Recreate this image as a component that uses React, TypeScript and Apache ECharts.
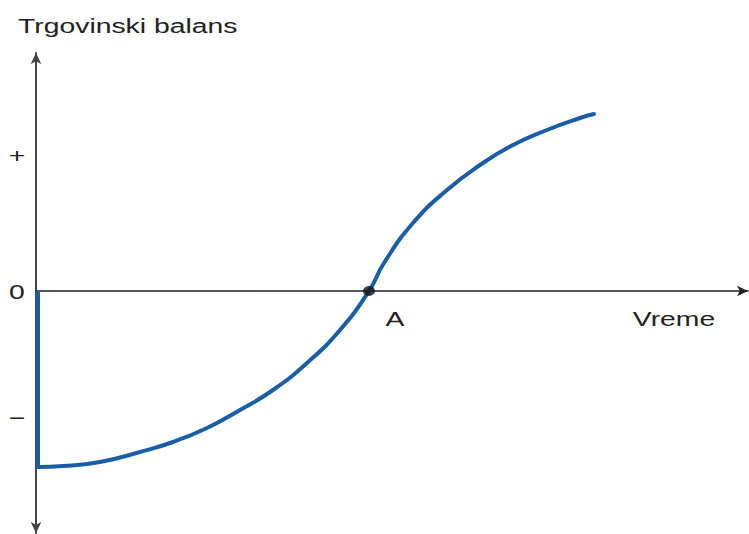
import React, { useEffect, useRef } from "react";
import * as echarts from "echarts";

// Curve (J-curve) points: x = time, y = trade balance
const curveX = [2, 27, 64, 104, 137, 171, 204, 237, 271, 304, 333, 348, 377, 411, 444, 477, 511, 544, 558];
const curveY = [-176, -175, -171, -161, -151, -137, -119, -99, -72, -39, 0, 28, 68, 101, 126, 146, 161, 173, 177];
// Initial drop (vertical segment)
const dropX = [2, 2];
const dropY = [0, -176];
// Point A
const pointA = [333, 0];
// Y tick labels
const yTickValues = [136, 0, -126];
const yTickLabels = ["+", "0", "\u2212"];

const FONT = "'Liberation Sans', Arial, Helvetica, sans-serif";
const TXT = "#222";
const SCALE_X = 1.35;

export default function App() {
  const ref = useRef<HTMLDivElement>(null);

  useEffect(() => {
    document.body.style.margin = "0";
    const chart = echarts.init(ref.current!, null, { renderer: "svg" });
    chart.setOption({
      animation: false,
      backgroundColor: "#ffffff",
      grid: { left: 36, right: 1, top: 53, bottom: 1, containLabel: false },
      xAxis: {
        type: "value",
        min: 0,
        max: 712,
        axisLine: {
          onZero: true,
          symbol: ["none", "arrow"],
          symbolSize: [8, 11],
          lineStyle: { color: "#222", width: 1.5 },
        },
        axisTick: { show: false },
        axisLabel: { show: false },
        splitLine: { show: false },
      },
      yAxis: {
        type: "value",
        min: -242,
        max: 238,
        axisLine: {
          show: true,
          symbol: ["arrow", "arrow"],
          symbolSize: [8, 11],
          lineStyle: { color: "#444", width: 2 },
        },
        axisTick: { show: false },
        axisLabel: { show: false },
        splitLine: { show: false },
      },
      series: [
        {
          type: "line",
          data: dropX.map((x, i) => [x, dropY[i]]),
          symbol: "none",
          lineStyle: { color: "#1b5ea8", width: 4 },
          z: 3,
        },
        {
          type: "line",
          data: curveX.map((x, i) => [x, curveY[i]]),
          smooth: 0.5,
          symbol: "none",
          lineStyle: { color: "#1b5ea8", width: 4, cap: "round", join: "round" },
          z: 3,
        },
        {
          type: "scatter",
          data: [pointA],
          symbol: "circle",
          symbolSize: [12, 10],
          itemStyle: { color: "#111" },
          z: 5,
        },
      ],
    });

    const graphics: any[] = [];
    const mkText = (text: string, x: number, y: number, align: string) => ({
      type: "text",
      x,
      y,
      scaleX: SCALE_X,
      style: {
        text,
        fontSize: 21,
        fontFamily: FONT,
        fill: TXT,
        align,
        textAlign: align,
        verticalAlign: "middle",
        textVerticalAlign: "middle",
      },
      z: 10,
    });
    graphics.push(mkText("Trgovinski balans", 18, 25, "left"));
    graphics.push(mkText("Vreme", 674, 318, "center"));
    const aPix = chart.convertToPixel({ gridIndex: 0 }, pointA) as number[];
    graphics.push(mkText("A", aPix[0] + 26, aPix[1] + 27, "center"));
    yTickValues.forEach((v, i) => {
      const p = chart.convertToPixel({ gridIndex: 0 }, [0, v]) as number[];
      graphics.push(mkText(yTickLabels[i], p[0] - 19, p[1], "center"));
    });
    chart.setOption({ graphic: graphics });

    return () => chart.dispose();
  }, []);

  return (
    <div
      ref={ref}
      style={{ position: "absolute", left: 0, top: 0, width: 749, height: 534 }}
    />
  );
}
